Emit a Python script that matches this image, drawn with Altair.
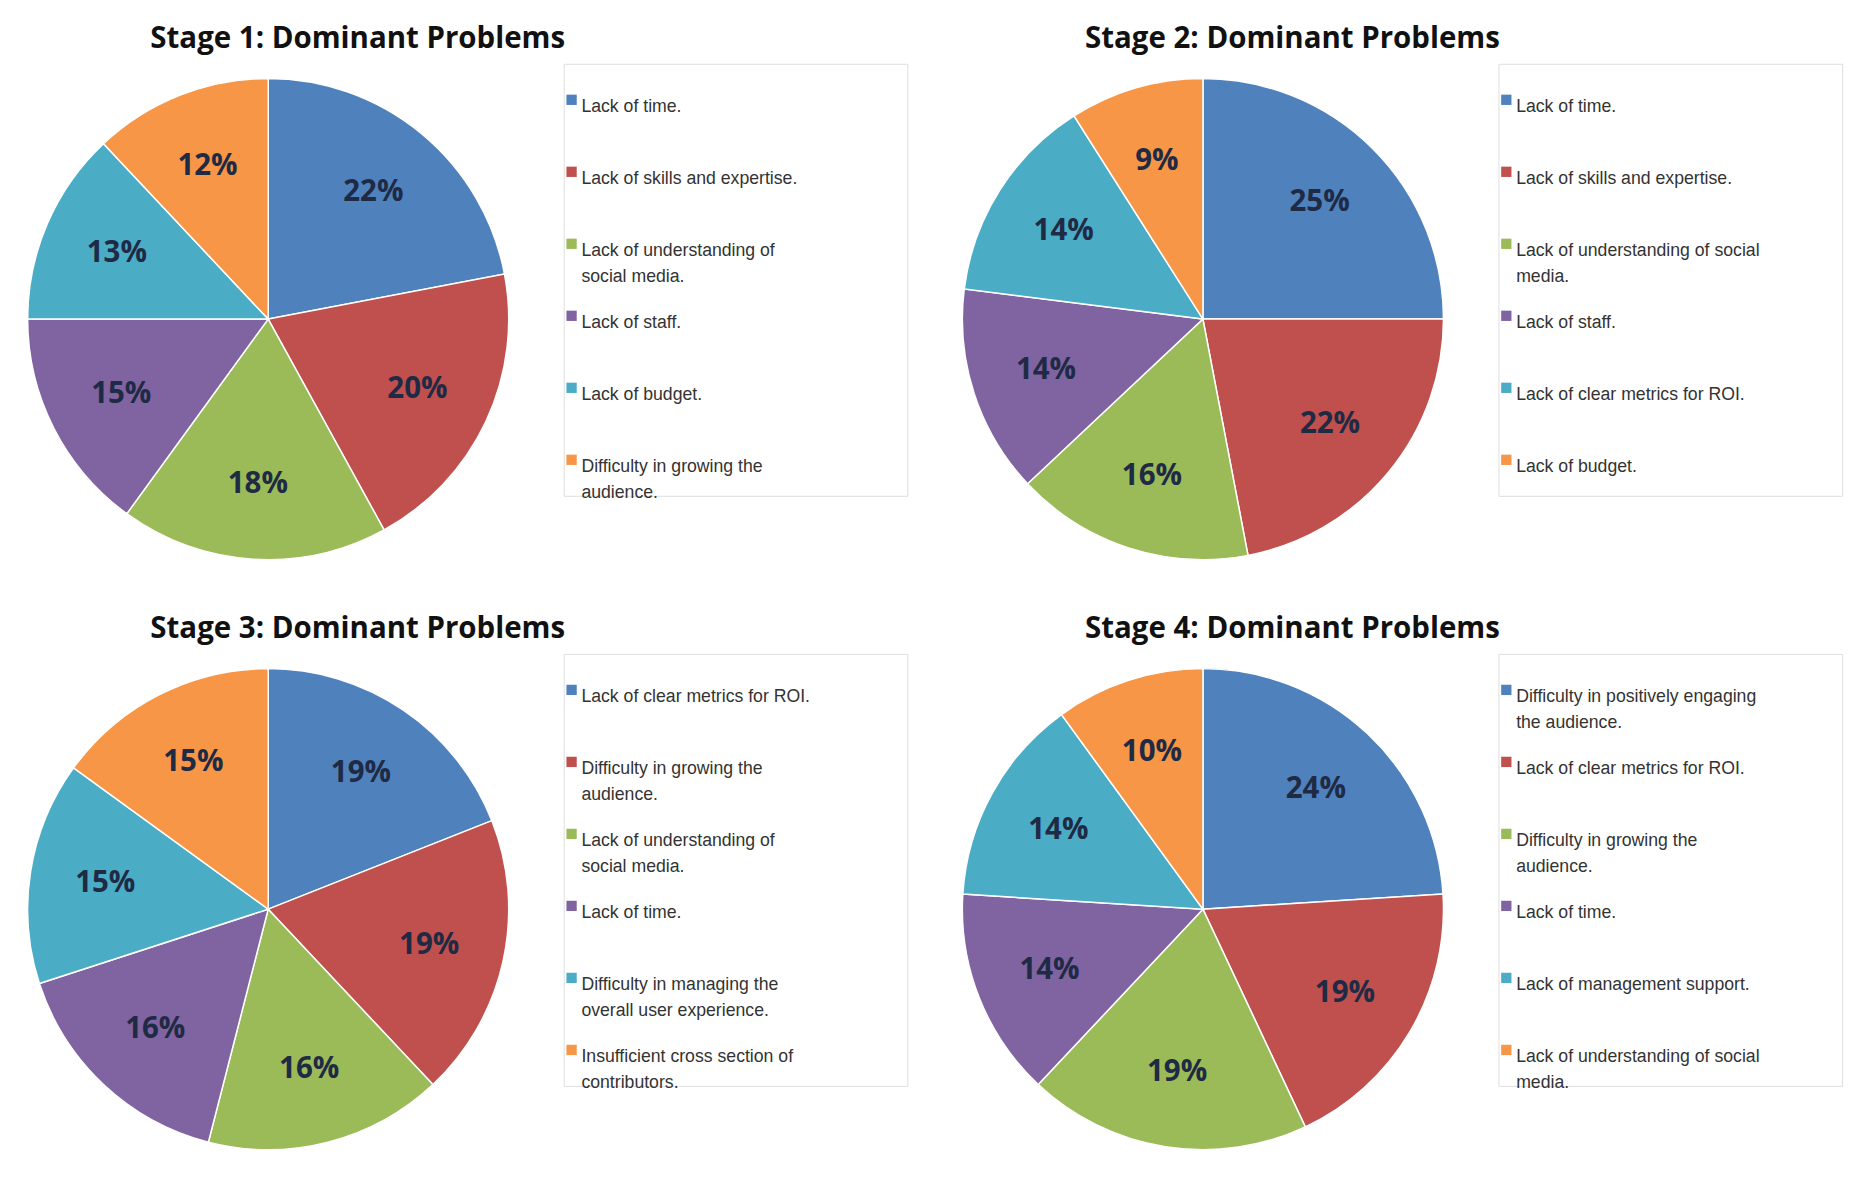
import altair as alt
import pandas as pd

colors = ["#4F81BD", "#C0504D", "#9BBB59", "#8064A2", "#4BACC6", "#F79646"]

stage1_labels = ["Lack of time.", "Lack of skills and expertise.",
                 "Lack of understanding of\nsocial media.", "Lack of staff.",
                 "Lack of budget.", "Difficulty in growing the\naudience."]
stage1_values = [22, 20, 18, 15, 13, 12]

stage2_labels = ["Lack of time.", "Lack of skills and expertise.",
                 "Lack of understanding of social\nmedia.", "Lack of staff.",
                 "Lack of clear metrics for ROI.", "Lack of budget."]
stage2_values = [25, 22, 16, 14, 14, 9]

stage3_labels = ["Lack of clear metrics for ROI.", "Difficulty in growing the\naudience.",
                 "Lack of understanding of\nsocial media.", "Lack of time.",
                 "Difficulty in managing the\noverall user experience.",
                 "Insufficient cross section of\ncontributors."]
stage3_values = [19, 19, 16, 16, 15, 15]

stage4_labels = ["Difficulty in positively engaging\nthe audience.",
                 "Lack of clear metrics for ROI.", "Difficulty in growing the\naudience.",
                 "Lack of time.", "Lack of management support.",
                 "Lack of understanding of social\nmedia."]
stage4_values = [24, 19, 19, 14, 14, 10]

titles = ["Stage 1: Dominant Problems", "Stage 2: Dominant Problems",
          "Stage 3: Dominant Problems", "Stage 4: Dominant Problems"]


def panel(title, labels, values):
    df = pd.DataFrame({"i": list(range(len(values))), "label": labels,
                       "value": values,
                       "pct": [f"{v}%" for v in values]})
    color = alt.Color("i:N", scale=alt.Scale(domain=list(range(6)), range=colors),
                      legend=None)
    base = alt.Chart(df).encode(
        theta=alt.Theta("value:Q", stack=True),
        order=alt.Order("i:Q"))
    arcs = base.mark_arc(outerRadius=245, stroke="white", strokeWidth=1.5).encode(color=color)
    text = base.mark_text(radius=168, font="Open Sans", fontWeight="bold",
                          fontSize=30, color="#1F2A44").encode(text="pct:N")
    pie = (arcs + text).properties(width=520, height=520)

    leg = alt.Chart(df).encode(y=alt.Y("i:O", axis=None,
                                        scale=alt.Scale(paddingOuter=0.3)))
    sq = leg.mark_square(size=110, opacity=1).encode(x=alt.value(8), color=color)
    lt = leg.mark_text(align="left", baseline="middle", dy=7, lineBreak="\n",
                       lineHeight=27, font="Liberation Sans", fontSize=18,
                       color="#333333").encode(x=alt.value(18), text="label:N")
    legend = (sq + lt).properties(width=350, height=440)

    return alt.hconcat(pie, legend, spacing=40).properties(
        title=alt.TitleParams(title, font="Open Sans", fontSize=30,
                              fontWeight="bold", color="#111111",
                              anchor="start", offset=10, dx=140))


p = [panel(t, l, v) for t, l, v in zip(
    titles,
    [stage1_labels, stage2_labels, stage3_labels, stage4_labels],
    [stage1_values, stage2_values, stage3_values, stage4_values])]

chart = alt.vconcat(
    alt.hconcat(p[0], p[1], spacing=40),
    alt.hconcat(p[2], p[3], spacing=40),
    spacing=40,
).configure_view(strokeWidth=0, stroke="transparent").configure(background="white")

chart.save("out.html", embed_options={"renderer": "svg", "actions": False})
